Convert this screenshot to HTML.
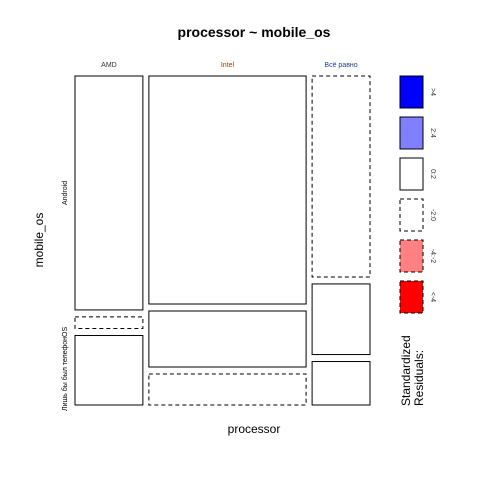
<!DOCTYPE html>
<html><head><meta charset="utf-8"><style>
body{margin:0;background:#fff;}
svg text{font-family:"Liberation Sans","DejaVu Sans",sans-serif;}
</style></head><body>
<svg id="c" width="480" height="480" xmlns="http://www.w3.org/2000/svg">
<rect width="480" height="480" fill="#fff"/>
<text x="254" y="37" text-anchor="middle" font-size="14" font-weight="bold">processor ~ mobile_os</text>
<text x="254" y="433" text-anchor="middle" font-size="12">processor</text>
<text transform="translate(43,240) rotate(-90)" text-anchor="middle" font-size="12">mobile_os</text>
<g id="cells"></g>
<g id="legend"></g>
<text transform="translate(410,406) rotate(-90)" font-size="12" text-anchor="start">Standardized</text>
<text transform="translate(423,406) rotate(-90)" font-size="12" text-anchor="start">Residuals:</text>
</svg>
<script>
const categories = ["AMD", "Intel", "Всё равно"];
const catColors = ["#333333", "#8b4500", "#1f3f8f"];
const rowLabels = ["Android", "Лишь бы был телефонОS"];
const counts = [[50.5, 2.5, 15], [114, 28, 15.5], [37, 13, 8]];
const dashed = [[false, true, false], [false, false, true], [true, false, false]];
const legendLabels = [">4", "2:4", "0:2", "-2:0", "-4:-2", "<-4"];
const legendFills = ["#0000ff", "#8080ff", "#ffffff", "#ffffff", "#ff8080", "#ff0000"];
const legendDashed = [false, false, false, true, true, true];

const NS = "http://www.w3.org/2000/svg";
const g = document.getElementById("cells");
const x0 = 75, x1 = 370, y0 = 76, y1 = 405, gx = 6, gy = 7;
const colTotals = counts.map(c => c.reduce((a, b) => a + b, 0));
const grand = colTotals.reduce((a, b) => a + b, 0);
const wAvail = (x1 - x0) - gx * (categories.length - 1);
let cx = x0;
categories.forEach((cat, i) => {
  const w = wAvail * colTotals[i] / grand;
  const t = document.createElementNS(NS, "text");
  t.setAttribute("x", cx + w / 2); t.setAttribute("y", 67);
  t.setAttribute("text-anchor", "middle"); t.setAttribute("font-size", "7");
  t.setAttribute("fill", catColors[i]);
  t.textContent = cat;
  
  
  g.appendChild(t);
  const hAvail = (y1 - y0) - gy * (counts[i].length - 1);
  let cy = y0;
  counts[i].forEach((v, j) => {
    const h = hAvail * v / colTotals[i];
    const r = document.createElementNS(NS, "rect");
    r.setAttribute("x", cx); r.setAttribute("y", cy);
    r.setAttribute("width", w); r.setAttribute("height", h);
    r.setAttribute("fill", "#fff"); r.setAttribute("stroke", "#000");
    if (dashed[i][j]) r.setAttribute("stroke-dasharray", "4,3");
    
    
    g.appendChild(r);
    cy += h + gy;
  });
  cx += w + gx;
});
const hA = (y1 - y0) - gy * 2;
const a0 = hA * counts[0][0] / colTotals[0];
const rl = [[y0 + a0 / 2, rowLabels[0], "middle"], [y1 + 6, rowLabels[1], "start"]];
rl.forEach(([y, s, anc]) => {
  const t = document.createElementNS(NS, "text");
  t.setAttribute("transform", `translate(67,${y}) rotate(-90)`);
  t.setAttribute("text-anchor", anc); t.setAttribute("font-size", "7");
  t.textContent = s;
  
  
  g.appendChild(t);
});
const lg = document.getElementById("legend");
legendLabels.forEach((s, k) => {
  const y = 76 + k * 41;
  const r = document.createElementNS(NS, "rect");
  r.setAttribute("x", 400); r.setAttribute("y", y);
  r.setAttribute("width", 23); r.setAttribute("height", 32);
  r.setAttribute("fill", legendFills[k]); r.setAttribute("stroke", "#000");
  if (legendDashed[k]) r.setAttribute("stroke-dasharray", "4,3");
  
  
  lg.appendChild(r);
  const t = document.createElementNS(NS, "text");
  t.setAttribute("transform", `translate(431,${y + 16}) rotate(90)`);
  t.setAttribute("text-anchor", "middle"); t.setAttribute("font-size", "7");
  t.setAttribute("fill", "#333");
  t.textContent = s;
  
  
  lg.appendChild(t);
});
</script>
</body></html>
